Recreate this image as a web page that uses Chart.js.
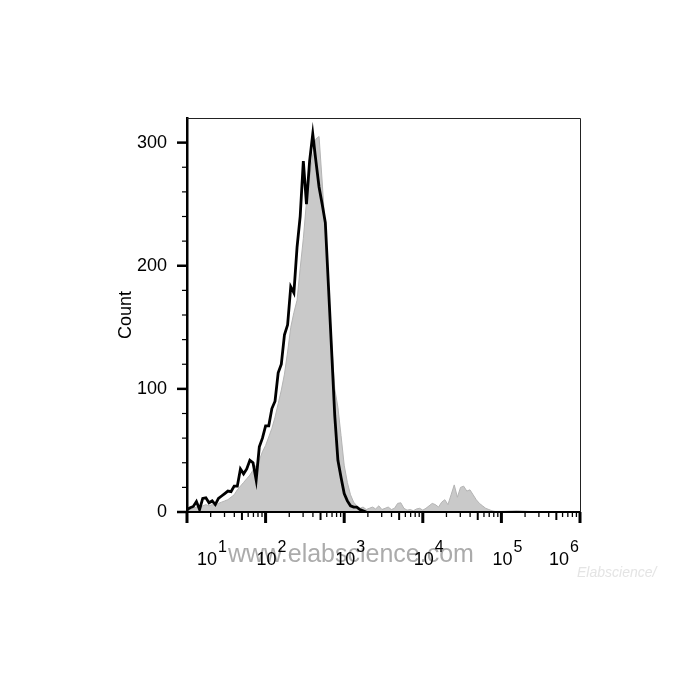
<!DOCTYPE html>
<html><head><meta charset="utf-8">
<script src="https://cdn.jsdelivr.net/npm/chart.js@4.4.1/dist/chart.umd.min.js"></script>
<style>html,body{margin:0;padding:0;background:#fff;}#wrap{width:700px;height:700px;}</style>
</head><body><div id="wrap"><canvas id="c" width="700" height="700"></canvas></div>
<script>
// x positions in decades (log10 of fluorescence intensity)
const decades = [
  1.00,1.04,1.08,1.12,1.16,1.20,1.24,1.28,1.32,1.36,1.40,1.44,1.48,1.52,1.56,1.60,1.64,1.68,1.72,1.76,
  1.80,1.84,1.88,1.92,1.96,2.00,2.04,2.08,2.12,2.16,2.20,2.24,2.28,2.32,2.36,2.40,2.44,2.48,2.52,2.56,
  2.60,2.64,2.68,2.72,2.76,2.80,2.84,2.88,2.92,2.96,3.00,3.04,3.08,3.12,3.16,3.20,3.24,3.28,3.32,3.36,
  3.40,3.44,3.48,3.52,3.56,3.60,3.64,3.68,3.72,3.76,3.80,3.84,3.88,3.92,3.96,4.00,4.04,4.08,4.12,4.16,
  4.20,4.24,4.28,4.32,4.36,4.40,4.44,4.48,4.52,4.56,4.60,4.64,4.68,4.72,4.76,4.80,4.84,4.88,4.92,4.96,
  5.00,5.20,5.40,5.60,6.00
];
// gray filled histogram (control)
const grayCounts = [
  1,2,3,4,3,5,6,5,6,5,7,8,9,10,12,14,18,21,24,27,
  30,34,38,42,49,54,61,68,77,88,99,112,130,150,162,172,198,222,252,272,
  290,303,305,268,228,185,138,100,85,62,38,24,14,8,5,3,4,2,3,4,
  2.5,5,2,3,4,2,3,7,7.5,3,1.5,2,1,2.5,3,1.5,3,5,7,6,
  4,8,10,6,14,22,12,20,21,17,18,14,10,7,5,3,2,1,0.5,0.5,
  0.5,1,0.3,0.3,0.3
];
// black outline histogram (stained)
const blackCounts = [
  2,3.5,4.5,8.5,2,11,11.5,7.5,9,6,11,13,15,17,16.5,21,21,35,31,35,
  42,40,26,53,60,70,70,84,90,113,120,144,152,183,178,215,240,285,250,285,
  307,285,264,250,235,183,131,78,42,28,15,9,5,4,4,2,1,0
];
const xDecadeExponents = ['1','2','3','4','5','6'];
const yAxisTitle = 'Count';
const watermarkMain = 'www.elabscience.com';
const watermarkSmall = 'Elabscience';

const FONT = '"Liberation Sans", Arial, sans-serif';

const axisDecor = {
  id: 'axisDecor',
  beforeDraw(chart) {
    const ctx = chart.ctx;
    ctx.save(); ctx.fillStyle = '#fff'; ctx.fillRect(0, 0, chart.width, chart.height); ctx.restore();
  },
  afterDraw(chart) {
    const {ctx, chartArea: a, scales: {x, y}} = chart;
    ctx.save();
    // thin frame top/right
    ctx.strokeStyle = '#222'; ctx.lineWidth = 1;
    ctx.beginPath();
    ctx.moveTo(a.left, a.top + 0.5); ctx.lineTo(a.right + 0.5, a.top + 0.5); ctx.lineTo(a.right + 0.5, a.bottom);
    ctx.stroke();
    ctx.strokeStyle = '#000';
    // y ticks
    y.ticks.forEach(t => {
      const py = y.getPixelForValue(t.value);
      if (py < a.top + 3) return;
      const major = t.value % 100 === 0;
      ctx.lineWidth = major ? 2.5 : 1.2;
      ctx.beginPath(); ctx.moveTo(a.left - (major ? 10 : 5), py); ctx.lineTo(a.left, py); ctx.stroke();
    });
    // x ticks (decade, 5x and minor)
    for (let k = 1; k <= 6; k++) {
      for (let m = 1; m <= 9; m++) {
        if (k === 6 && m > 1) break;
        const px = x.getPixelForValue(k + Math.log10(m));
        const len = m === 1 ? 11 : (m === 5 ? 8 : 5);
        ctx.lineWidth = m === 1 ? 3 : (m === 5 ? 2 : 1.3);
        ctx.beginPath(); ctx.moveTo(px, a.bottom); ctx.lineTo(px, a.bottom + len); ctx.stroke();
      }
    }
    // watermark
    ctx.font = '25px ' + FONT;
    ctx.fillStyle = 'rgba(150,150,150,0.8)';
    ctx.textBaseline = 'alphabetic'; ctx.textAlign = 'left';
    ctx.fillText(watermarkMain, 228, 562);
    ctx.font = 'italic 14px ' + FONT;
    ctx.fillStyle = 'rgba(225,225,225,0.9)';
    ctx.fillText(watermarkSmall + '/', 577, 577);
    // x labels 10^k
    ctx.fillStyle = '#000';
    xDecadeExponents.forEach(e => {
      const px = x.getPixelForValue(Number(e));
      ctx.font = '18px ' + FONT;
      const wb = ctx.measureText('10').width;
      ctx.font = '16px ' + FONT;
      const we = ctx.measureText(e).width;
      const w = wb + 1 + we;
      let left = px - 9;
      if (left < a.left + 10) left = a.left + 10;
      if (left + w > a.right - 1) left = a.right - 1 - w;
      ctx.font = '18px ' + FONT;
      ctx.fillText('10', left, 565);
      ctx.font = '16px ' + FONT;
      ctx.fillText(e, left + wb + 1, 552);
    });
    ctx.restore();
  }
};

new Chart(document.getElementById('c'), {
  type: 'line',
  data: {
    datasets: [
      {
        label: 'stained',
        data: blackCounts.map((v, i) => ({x: decades[i], y: v})),
        borderColor: '#000', borderWidth: 2.8, pointRadius: 0, fill: false, tension: 0, order: 0
      },
      {
        label: 'control',
        data: grayCounts.map((v, i) => ({x: decades[i], y: v})),
        borderColor: '#b4b4b4', borderWidth: 1, backgroundColor: '#c9c9c9',
        pointRadius: 0, fill: 'origin', tension: 0, order: 1
      }
    ]
  },
  options: {
    responsive: false, animation: false, devicePixelRatio: 1,
    layout: {padding: {left: 0, top: 118, right: 120, bottom: 0}},
    plugins: {legend: {display: false}, tooltip: {enabled: false}},
    scales: {
      x: {
        type: 'linear', min: 1, max: 6,
        grid: {display: false, drawTicks: false},
        ticks: {display: false},
        border: {display: true, color: '#000', width: 2, z: 1},
        afterFit(s) { s.height = 188; }
      },
      y: {
        min: 0, max: 320,
        grid: {display: false, drawTicks: true, tickLength: 10},
        border: {display: true, color: '#000', width: 2.5, z: 1},
        ticks: {
          stepSize: 20, autoSkip: false, padding: 10, color: '#000',
          font: {size: 18, family: FONT},
          callback: v => (v % 100 === 0 && v <= 300) ? String(v) : ''
        },
        title: {display: true, text: yAxisTitle, color: '#000', font: {size: 18, family: FONT}, padding: {top: 115, bottom: 0}},
        afterFit(s) { s.width = 187; }
      }
    }
  },
  plugins: [axisDecor]
});
</script></body></html>
